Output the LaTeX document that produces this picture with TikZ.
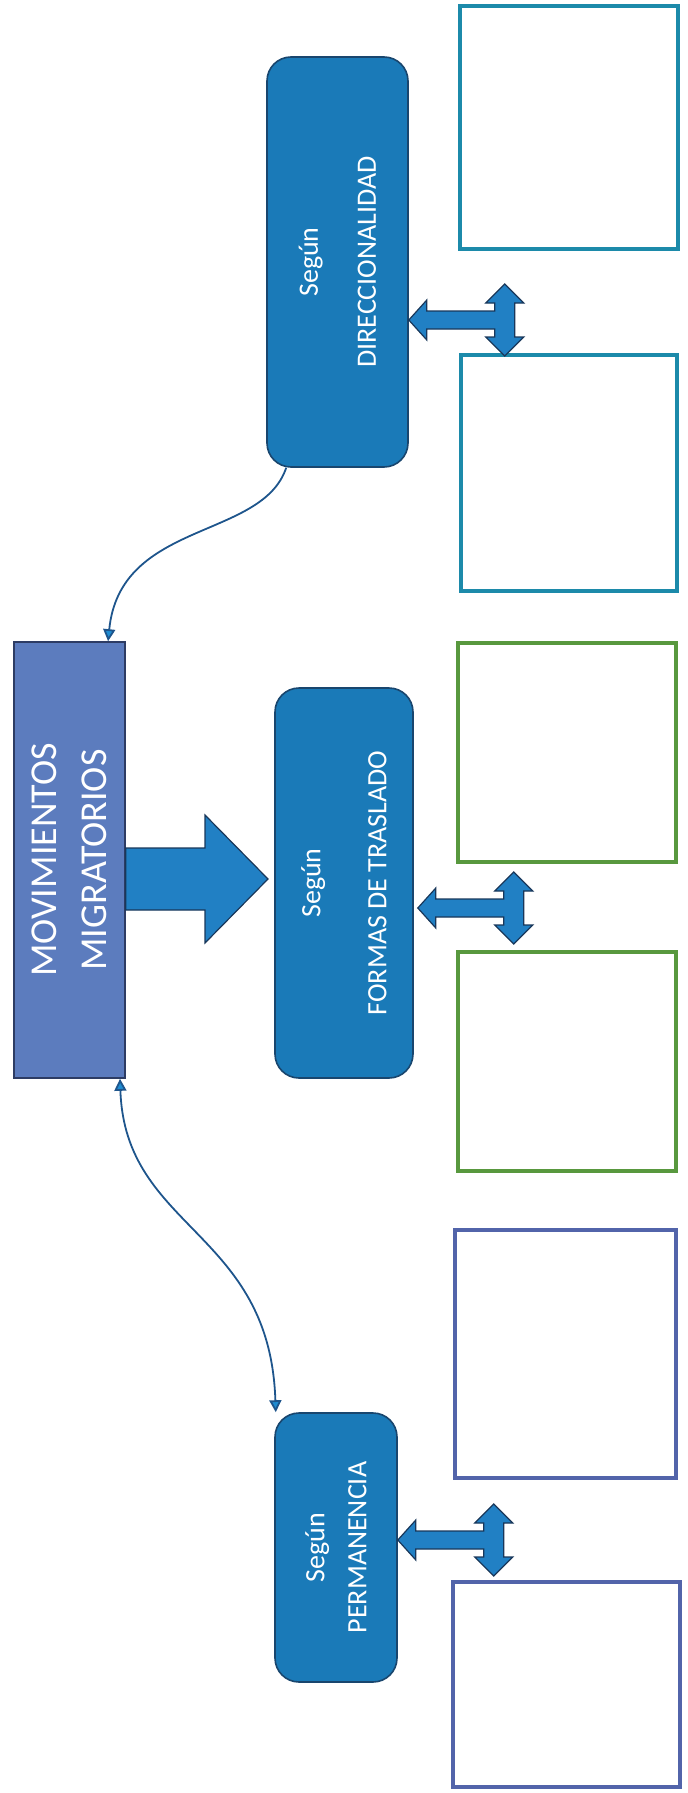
\documentclass[tikz,border=0pt]{standalone}
\usepackage{fontspec}
\setmainfont{Carlito}
\usetikzlibrary{arrows.meta}

\definecolor{mainfill}{RGB}{92,124,190}
\definecolor{mainline}{RGB}{45,60,100}
\definecolor{catfill}{RGB}{26,122,184}
\definecolor{catline}{RGB}{25,70,110}
\definecolor{arrfill}{RGB}{33,128,196}
\definecolor{arrline}{RGB}{25,55,90}
\definecolor{tealbox}{RGB}{28,138,170}
\definecolor{greenbox}{RGB}{88,152,62}
\definecolor{bluebox}{RGB}{82,100,170}
\definecolor{linkline}{RGB}{30,85,140}
\definecolor{linkhead}{RGB}{30,140,210}

\tikzset{
  mainbox/.style={draw=mainline, fill=mainfill, line width=0.8pt, inner sep=0pt},
  catbox/.style={draw=catline, fill=catfill, rounded corners=12pt, line width=0.8pt, inner sep=0pt},
  cattext/.style={rotate=90, align=center, text=white, font=\fontsize{14}{17}\selectfont},
  emptybox/.style={line width=2pt, fill=white, inner sep=0pt},
  blockarrow/.style={draw=arrline, fill=arrfill, line width=0.6pt, line join=miter},
  link/.style={draw=linkline, line width=0.9pt, >={Triangle[length=6pt,width=6pt,fill=linkhead]}},
  tarrow/.pic={
    \draw[blockarrow] (0,0) -- (18,-20) -- (18,-9) -- (86,-9) -- (86,-17) -- (77,-17)
      -- (96,-36) -- (115,-17) -- (106,-17) -- (106,17) -- (115,17) -- (96,36)
      -- (77,17) -- (86,17) -- (86,9) -- (18,9) -- (18,20) -- cycle;
  }
}

\begin{document}
\begin{tikzpicture}[x=0.5pt, y=-0.5pt]
    \useasboundingbox (0,0) rectangle (688,1793);

    % central box
    \node[mainbox, minimum width=55.5pt, minimum height=218pt] (main) at (69.5,860) {};
    \node[cattext, font=\fontsize{19}{23}\selectfont] (maintxt) at (main) {MOVIMIENTOS\\[2pt]MIGRATORIOS};

    % categories
    \node[catbox, minimum width=70.5pt, minimum height=205pt] (dir) at (337.5,262) {};
    \node[cattext] (dirtxt) at (dir) {Según\\[12pt]DIRECCIONALIDAD};

    \node[catbox, minimum width=69pt, minimum height=195pt] (formas) at (344,883) {};
    \node[cattext] (formastxt) at (formas) {Según\\[16pt]FORMAS DE TRASLADO};

    \node[catbox, minimum width=61pt, minimum height=134.5pt] (perm) at (336,1547.5) {};
    \node[cattext] (permtxt) at (perm) {Según\\[4pt]PERMANENCIA};

    % empty boxes
    \foreach \name/\cx/\cy/\w/\h/\col in {ra/569/127.5/109/121.5/tealbox,
        rb/568.5/473/108/118/tealbox, rc/567/752.5/109/109.5/greenbox,
        rd/567/1061.5/109/109.5/greenbox, re/565.5/1354/110.5/124/bluebox,
        rf/566.5/1684.5/113.5/102.5/bluebox} {
      \node[emptybox, draw=\col, minimum width=\w pt, minimum height=\h pt] (\name) at (\cx,\cy) {};
    }

    % block arrows
    \draw[blockarrow] (main.east |- 0,848) -- (205,848) -- (205,815) -- (268,879)
      -- (205,943) -- (205,910) -- (main.east |- 0,910) -- cycle;
    \pic (dirT) at (dir.east |- 0,320) {tarrow};
    \pic (formasT) at ([xshift=2pt]formas.east |- 0,908) {tarrow};
    \pic (permT) at (perm.east |- 0,1540) {tarrow};

    % curved links
    \draw[link, ->] (dir.256) .. controls (262,540) and (120,520) .. (main.80);
    \draw[link, <->] (main.-77) .. controls (125,1230) and (270,1230) .. (perm.114);

\end{tikzpicture}
\end{document}
